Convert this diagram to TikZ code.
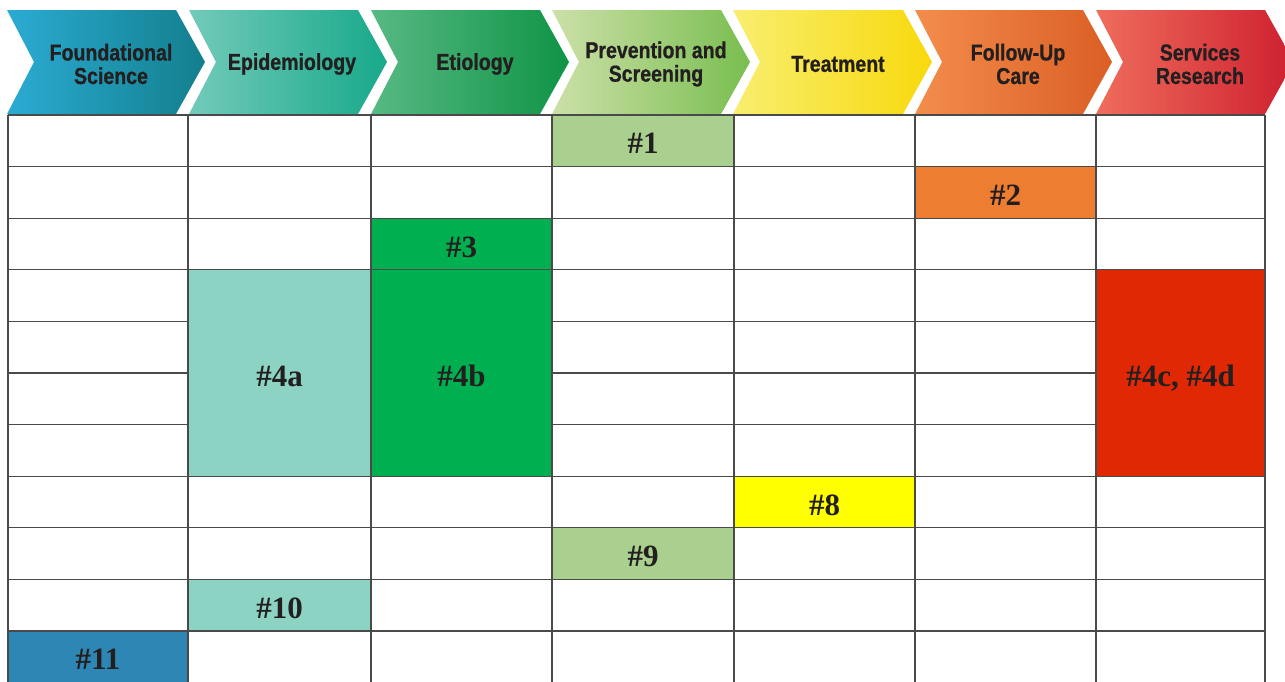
\documentclass[tikz,border=0pt]{standalone}
\usepackage{fontspec}
\newfontfamily\hdfont[FakeStretch=0.85, BoldFeatures={FakeBold=0.8}]{Liberation Sans}
\newfontfamily\cellfam{Liberation Serif}
\definecolor{gridc}{HTML}{4A4A4A}
\definecolor{txt}{HTML}{231F20}
\definecolor{lgreen}{HTML}{A9D08E}
\definecolor{orng}{HTML}{ED7D31}
\definecolor{grn}{HTML}{00B050}
\definecolor{teal}{HTML}{8DD3C3}
\definecolor{redc}{HTML}{E02805}
\definecolor{yel}{HTML}{FFFF00}
\definecolor{blu}{HTML}{2E86B5}
\definecolor{h1a}{HTML}{2BABD3}\definecolor{h1b}{HTML}{137F8D}
\definecolor{h2a}{HTML}{72CABA}\definecolor{h2b}{HTML}{18A98A}
\definecolor{h3a}{HTML}{57B983}\definecolor{h3b}{HTML}{0F9446}
\definecolor{h4a}{HTML}{CCE0A8}\definecolor{h4b}{HTML}{79BE50}
\definecolor{h5a}{HTML}{F8EE70}\definecolor{h5b}{HTML}{F8D90C}
\definecolor{h6a}{HTML}{F38D4B}\definecolor{h6b}{HTML}{DB5E25}
\definecolor{h7a}{HTML}{EF6D5C}\definecolor{h7b}{HTML}{CE202F}
\tikzset{
  cellbox/.style={draw=gridc, line width=1.1pt, inner sep=0pt, outer sep=0pt, text=txt,
    text height=26pt, text depth=0pt,
    font=\cellfam\bfseries\fontsize{31}{31}\selectfont},
  hdtext/.style={align=center, text=txt, inner sep=0pt,
    font=\hdfont\bfseries\fontsize{23}{23.5}\selectfont},
  gridline/.style={draw=gridc, line width=1.1pt}
}
\begin{document}
\begin{tikzpicture}[x=1pt,y=-1pt]
\useasboundingbox (0,0) rectangle (1285,681);
\clip (0,0) rectangle (1285,681);
\fill[white] (0,0) rectangle (1285,681);
% header chevrons
\foreach \L/\R/\ca/\cb in {7/176/h1a/h1b,189/358/h2a/h2b,371/540/h3a/h3b,552/721/h4a/h4b,733/903/h5a/h5b,915/1083/h6a/h6b,1096/1265/h7a/h7b}{
  \path[left color=\ca, right color=\cb] (\L,10) -- (\R,10) -- ({\R+29},62) -- (\R,114) -- (\L,114) -- ({\L+27},62) -- cycle;
}
\node[hdtext] (h1) at (111,64) {Foundational\\Science};
\node[hdtext] (h2) at (292,64) {Epidemiology};
\node[hdtext] (h3) at (475,64) {Etiology};
\node[hdtext] (h4) at (656,64) {Prevention and\\Screening};
\node[hdtext] (h5) at (838,64) {Treatment};
\node[hdtext] (h6) at (1018,64) {Follow-Up\\Care};
\node[hdtext] (h7) at (1200,64) {Services\\Research};
% grid
\foreach \k in {0,...,11}{
  \draw[gridline] (8,{115+51.6*\k}) -- (1265,{115+51.6*\k});
}
\foreach \x in {8,188,371,552,734,915,1096,1265}{
  \draw[gridline] (\x,115) -- (\x,690);
}
% coloured cells
\node[cellbox, fill=lgreen, minimum width=182pt, minimum height=51.6pt] (c1) at (643,140.8) {\#1};
\node[cellbox, fill=orng, minimum width=181pt, minimum height=51.6pt] (c2) at (1005.5,192.4) {\#2};
\node[cellbox, fill=grn, minimum width=181pt, minimum height=51.6pt] (c3) at (461.5,244) {\#3};
\node[cellbox, fill=teal, minimum width=183pt, minimum height=206.4pt] (c4a) at (279.5,373) {\#4a};
\node[cellbox, fill=grn, minimum width=181pt, minimum height=206.4pt] (c4b) at (461.5,373) {\#4b};
\node[cellbox, fill=redc, minimum width=169pt, minimum height=206.4pt] (c4c) at (1180.5,373) {\#4c, \#4d};
\node[cellbox, fill=yel, minimum width=181pt, minimum height=51.6pt] (c8) at (824.5,502) {\#8};
\node[cellbox, fill=lgreen, minimum width=182pt, minimum height=51.6pt] (c9) at (643,553.6) {\#9};
\node[cellbox, fill=teal, minimum width=183pt, minimum height=51.6pt] (c10) at (279.5,605.2) {\#10};
\node[cellbox, fill=blu, minimum width=180pt, minimum height=51.6pt] (c11) at (98,656.8) {\#11};
\end{tikzpicture}
\end{document}
